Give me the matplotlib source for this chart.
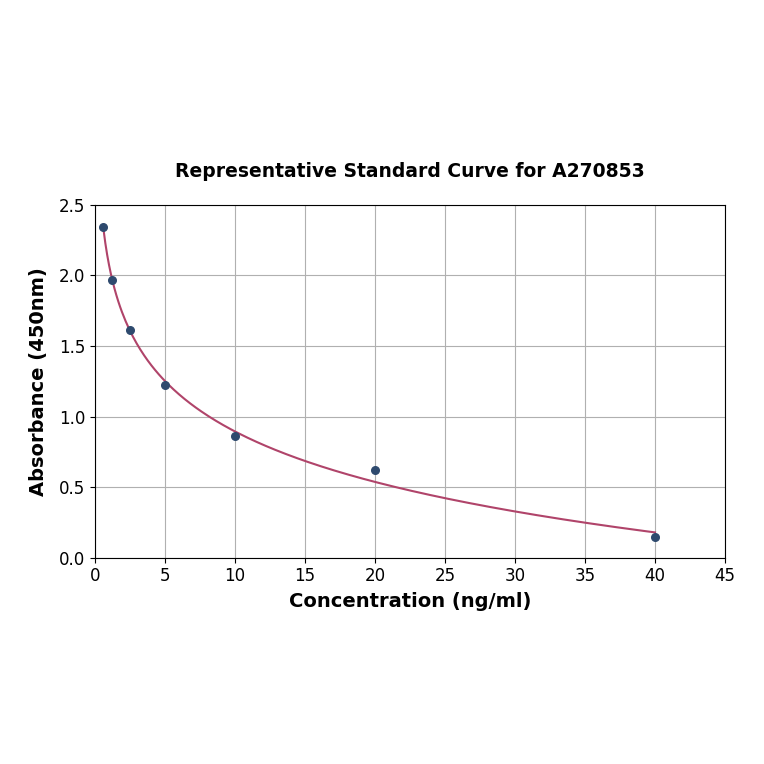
import numpy as np
import matplotlib
matplotlib.use("Agg")
import matplotlib.pyplot as plt

# standard points
conc = np.array([0.625, 1.25, 2.5, 5, 10, 20, 40])
absorb = np.array([2.34, 1.97, 1.61, 1.22, 0.86, 0.62, 0.15])

x_ticks = [0, 5, 10, 15, 20, 25, 30, 35, 40, 45]
y_ticks = [0.0, 0.5, 1.0, 1.5, 2.0, 2.5]

# log fit through the points for the curve
coef = np.polyfit(np.log(conc), absorb, 1)
xs = np.linspace(conc.min(), conc.max(), 300)
ys = np.polyval(coef, np.log(xs))

fig = plt.figure(figsize=(7.64, 7.64), dpi=100)
ax = fig.add_axes([0.124, 0.270, 0.825, 0.462])

ax.plot(xs, ys, color='#b0446a', lw=1.5, zorder=2)
ax.scatter(conc, absorb, color='#2e4a6e', s=30, zorder=3)

ax.set_xlim(0, 45)
ax.set_ylim(0, 2.5)
ax.set_xticks(x_ticks)
ax.set_yticks(y_ticks)
ax.tick_params(labelsize=12)
ax.grid(True, color='#b0b0b0', lw=0.8)
ax.set_axisbelow(True)

ax.set_xlabel("Concentration (ng/ml)", fontsize=14, fontweight='bold', labelpad=5)
ax.set_ylabel("Absorbance (450nm)", fontsize=14, fontweight='bold', labelpad=8)
ax.set_title("Representative Standard Curve for A270853", fontsize=13.5, fontweight='bold', pad=20)

fig.savefig("out.png", dpi=100)
